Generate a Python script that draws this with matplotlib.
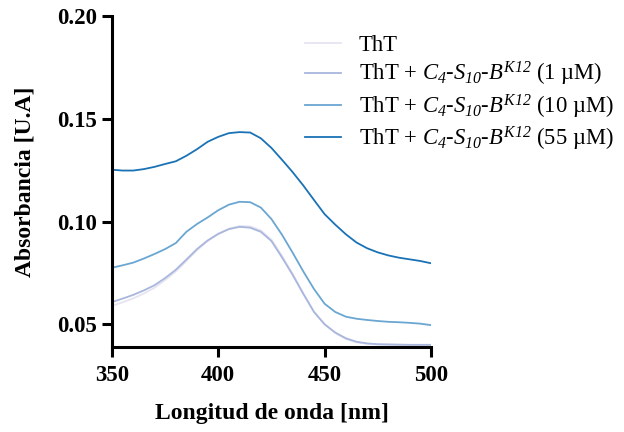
import matplotlib
matplotlib.use("Agg")
import matplotlib.pyplot as plt

plt.rcParams['font.family'] = ['Liberation Serif', 'DejaVu Serif']
plt.rcParams['mathtext.fontset'] = 'custom'
plt.rcParams['mathtext.rm'] = 'Liberation Serif:italic'
plt.rcParams['mathtext.it'] = 'Liberation Serif:italic'
plt.rcParams['mathtext.default'] = 'it'

# Wavelength (nm)
wavelength = [350, 355, 360, 365, 370, 375, 380, 385, 390, 395, 400, 405, 410, 415, 420,
              425, 430, 435, 440, 445, 450, 455, 460, 465, 470, 475, 480, 485, 490, 495, 500]

tht = [0.0590, 0.0607, 0.0626, 0.0650, 0.0678, 0.0715, 0.0757, 0.0808, 0.0860, 0.0905,
       0.0940, 0.0965, 0.0978, 0.0976, 0.0957, 0.0912, 0.0832, 0.0745, 0.0650, 0.0562,
       0.0500, 0.0458, 0.0428, 0.0412, 0.0405, 0.0402, 0.0401, 0.0400, 0.0400, 0.0400, 0.0400]

tht_1uM = [0.0608, 0.0625, 0.0643, 0.0665, 0.0690, 0.0725, 0.0765, 0.0815, 0.0866, 0.0908,
           0.0940, 0.0963, 0.0974, 0.0970, 0.0950, 0.0905, 0.0825, 0.0740, 0.0648, 0.0560,
           0.0500, 0.0460, 0.0432, 0.0415, 0.0407, 0.0403, 0.0402, 0.0401, 0.0400, 0.0400, 0.0400]

tht_10uM = [0.0775, 0.0787, 0.0800, 0.0820, 0.0842, 0.0866, 0.0895, 0.0950, 0.0988, 0.1020,
            0.1055, 0.1082, 0.1096, 0.1094, 0.1068, 0.1012, 0.0935, 0.0848, 0.0757, 0.0672,
            0.0600, 0.0560, 0.0537, 0.0527, 0.0521, 0.0516, 0.0512, 0.0510, 0.0507, 0.0503, 0.0496]

tht_55uM = [0.1252, 0.1248, 0.1248, 0.1255, 0.1266, 0.1280, 0.1293, 0.1320, 0.1352, 0.1388,
            0.1412, 0.1430, 0.1435, 0.1433, 0.1405, 0.1358, 0.1300, 0.1240, 0.1175, 0.1105,
            0.1036, 0.0985, 0.0938, 0.0898, 0.0870, 0.0850, 0.0835, 0.0824, 0.0816, 0.0808, 0.0797]

pep = r'$C_{4}$-$S_{10}$-$B^{K12}$'
labels = ['ThT',
          'ThT + ' + pep + ' (1 µM)',
          'ThT + ' + pep + ' (10 µM)',
          'ThT + ' + pep + ' (55 µM)']
colors = ['#e6e4f1', '#a9b6dd', '#6aa6d2', '#1a72b6']

fig = plt.figure(figsize=(6.24, 4.32), dpi=100)
ax = fig.add_axes([0.1795, 0.197, 0.511, 0.766])

for series, lab, col in zip([tht, tht_1uM, tht_10uM, tht_55uM], labels, colors):
    ax.plot(wavelength, series, color=col, lw=1.3, label=lab)

ax.set_xlim(350, 500)
ax.set_ylim(0.039, 0.20)
ax.set_xticks([350, 400, 450, 500])
ax.set_yticks([0.05, 0.10, 0.15, 0.20])
ax.set_yticklabels(['0.05', '0.10', '0.15', '0.20'])

for s in ['top', 'right']:
    ax.spines[s].set_visible(False)
for s in ['left', 'bottom']:
    ax.spines[s].set_linewidth(2.2)
ax.tick_params(axis='both', direction='out', length=7, width=2.2, labelsize=16.5)
ax.tick_params(axis='x', pad=6)
for t in ax.get_xticklabels() + ax.get_yticklabels():
    t.set_fontweight('bold')

ax.set_xlabel('Longitud de onda [nm]', fontsize=17, fontweight='bold', labelpad=12)
ax.set_ylabel('Absorbancia [U.A]', fontsize=17, fontweight='bold', labelpad=16)

ax.legend(loc='upper left', bbox_to_anchor=(0.475, 0.94), bbox_transform=fig.transFigure,
          frameon=False, fontsize=16.3, handlelength=1.55, handletextpad=0.8, labelspacing=0.18,
          borderaxespad=0)

fig.savefig('out.png', dpi=100)
